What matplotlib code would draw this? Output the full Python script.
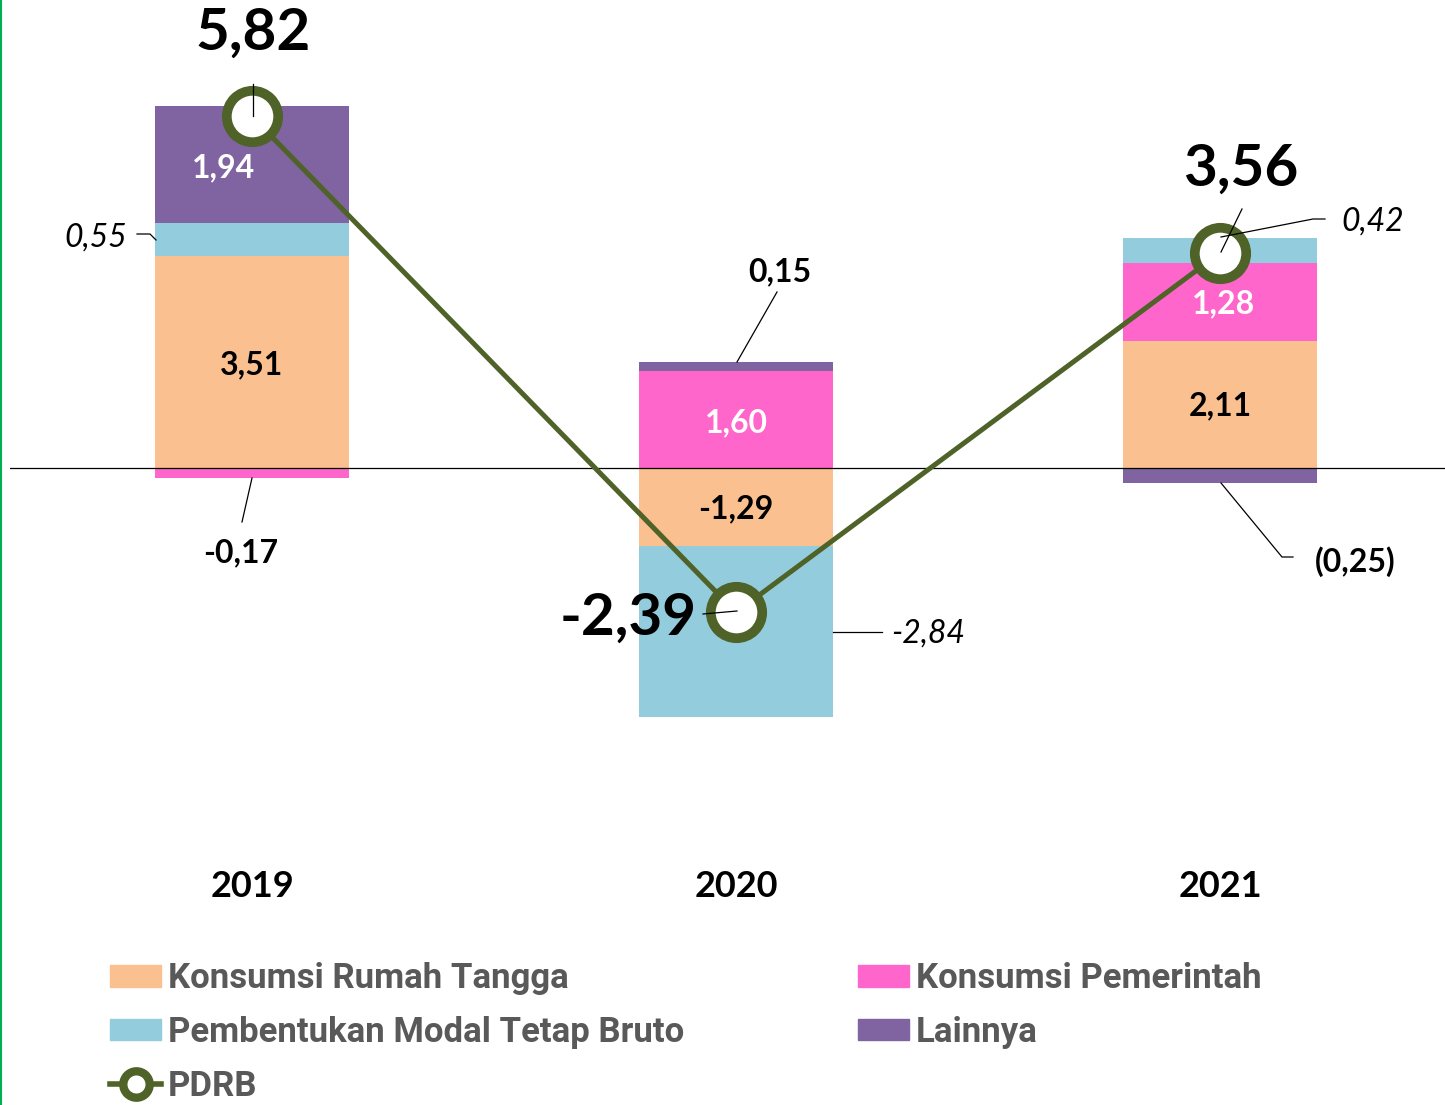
import numpy as np
import matplotlib
matplotlib.use("Agg")
import matplotlib.pyplot as plt
from matplotlib.lines import Line2D
from matplotlib.patches import Patch

years = ["2019", "2020", "2021"]
series = ["Konsumsi Rumah Tangga", "Konsumsi Pemerintah",
          "Pembentukan Modal Tetap Bruto", "Lainnya"]
rumah_tangga = [3.51, -1.29, 2.11]
pemerintah = [-0.17, 1.60, 1.28]
pmtb = [0.55, -2.84, 0.42]
lainnya = [1.94, 0.15, -0.25]
pdrb = [5.82, -2.39, 3.56]

colors = {"Konsumsi Rumah Tangga": "#FAC090",
          "Konsumsi Pemerintah": "#FF66CC",
          "Pembentukan Modal Tetap Bruto": "#93CDDD",
          "Lainnya": "#8064A2"}
line_color = "#4F6228"

W, H = 1445, 1105
fig = plt.figure(figsize=(W / 100, H / 100), dpi=100)

# axes covers the whole figure height; scale 60.4 px per unit, zero at y=468
x0, x1 = 10, 1445
scale_x, zero_px = 484, 252
scale_y, zero_py = 60.4, 468
ax = fig.add_axes([x0 / W, 0, (x1 - x0) / W, 1])
ax.set_xlim((x0 - zero_px) / scale_x, (x1 - zero_px) / scale_x)
ax.set_ylim(-(H - zero_py) / scale_y, zero_py / scale_y)
ax.axis("off")


def px(x, y):
    return ((x - zero_px) / scale_x, (zero_py - y) / scale_y)


xs = np.arange(len(years))
pos_bottom = np.zeros(len(years))
neg_bottom = np.zeros(len(years))
data = [rumah_tangga, pemerintah, pmtb, lainnya]
for name, vals in zip(series, data):
    vals = np.array(vals)
    bottoms = np.where(vals >= 0, pos_bottom, neg_bottom)
    ax.bar(xs, vals, width=0.4, bottom=bottoms, color=colors[name], zorder=2)
    pos_bottom += np.where(vals >= 0, vals, 0)
    neg_bottom += np.where(vals < 0, vals, 0)

ax.axhline(0, color="black", lw=0.9, zorder=3)

ax.plot(xs, pdrb, color=line_color, lw=3.6, marker="o", ms=37,
        mfc="white", mec=line_color, mew=7, zorder=5)


def fmt(v):
    return f"{v:.2f}".replace(".", ",")


FONT = "Lato"
SMALL = 23
inner = dict(ha="center", va="center", fontsize=SMALL, fontweight="bold",
             family=FONT, zorder=6)

# labels inside the bars
ax.text(*px(224, 168), fmt(lainnya[0]), color="white", **inner)
ax.text(*px(252, 365), fmt(rumah_tangga[0]), color="black", **inner)
ax.text(*px(736, 423), fmt(pemerintah[1]), color="white", **inner)
ax.text(*px(736, 509), fmt(rumah_tangga[1]), color="black", **inner)
ax.text(*px(1224, 304), fmt(pemerintah[2]), color="white", **inner)
ax.text(*px(1220, 406), fmt(rumah_tangga[2]), color="black", **inner)

lead = dict(color="black", lw=0.9, zorder=7)
bold = dict(ha="center", va="center", fontsize=SMALL, fontweight="bold",
            family=FONT)
ital = dict(ha="center", va="center", fontsize=SMALL, style="italic",
            family=FONT)

# small outside labels with leader lines
ax.text(*px(96, 238), fmt(pmtb[0]), **ital)
ax.plot(*zip(px(137, 234), px(150, 234), px(156, 240)), **lead)

ax.text(*px(241, 553), fmt(pemerintah[0]), **bold)
ax.plot(*zip(px(252, 478), px(242, 522)), **lead)

ax.text(*px(780, 272), fmt(lainnya[1]), **bold)
ax.plot(*zip(px(777, 292), px(737, 362)), **lead)

ax.text(*px(928, 634), fmt(pmtb[1]), **ital)
ax.plot(*zip(px(833, 632), px(882, 632)), **lead)

ax.text(*px(1373, 222), fmt(pmtb[2]), **ital)
ax.plot(*zip(px(1221, 237), px(1313, 219), px(1325, 219)), **lead)

ax.text(*px(1355, 562), "(" + fmt(-lainnya[2]) + ")", **bold)
ax.plot(*zip(px(1221, 483), px(1282, 557), px(1293, 557)), **lead)

# PDRB labels
big = dict(ha="center", va="center", fontsize=42, fontweight="bold",
           family=FONT, zorder=8)
ax.text(*px(253, 33), fmt(pdrb[0]), **big)
ax.plot(*zip(px(253, 84), px(253, 116)), **lead)
ax.text(*px(1241, 169), fmt(pdrb[2]), **big)
ax.plot(*zip(px(1242, 209), px(1221, 252)), **lead)
ax.text(*px(628, 618), fmt(pdrb[1]), **big)
ax.plot(*zip(px(703, 614), px(737, 611)), **lead)

# year labels
for i, yr in enumerate(years):
    ax.text(i, px(0, 887)[1], yr, ha="center", va="center", fontsize=26,
            fontweight="bold", family=FONT)

# legend
handles = [Patch(color=colors["Konsumsi Rumah Tangga"]),
           Patch(color=colors["Pembentukan Modal Tetap Bruto"]),
           Line2D([], [], color=line_color, lw=4, marker="o", ms=19,
                  mfc="white", mec=line_color, mew=6),
           Patch(color=colors["Konsumsi Pemerintah"]),
           Patch(color=colors["Lainnya"])]
labels = ["Konsumsi Rumah Tangga", "Pembentukan Modal Tetap Bruto", "PDRB",
          "Konsumsi Pemerintah", "Lainnya"]
leg = fig.legend(handles, labels, ncol=2, loc="upper left",
                 bbox_to_anchor=(110 / W, 1 - 962 / H), frameon=False,
                 prop=dict(family="Roboto", weight="bold", size=25),
                 handlelength=1.47, handleheight=0.58, handletextpad=0.2,
                 labelspacing=0.6, columnspacing=5.0, borderpad=0,
                 borderaxespad=0)
for t in leg.get_texts():
    t.set_color("#595959")

# green border at left edge
fig.add_artist(Line2D([1 / W, 1 / W], [0, 1], color="#00B050", lw=1.5,
                      transform=fig.transFigure))

fig.savefig("out.png", dpi=100)
